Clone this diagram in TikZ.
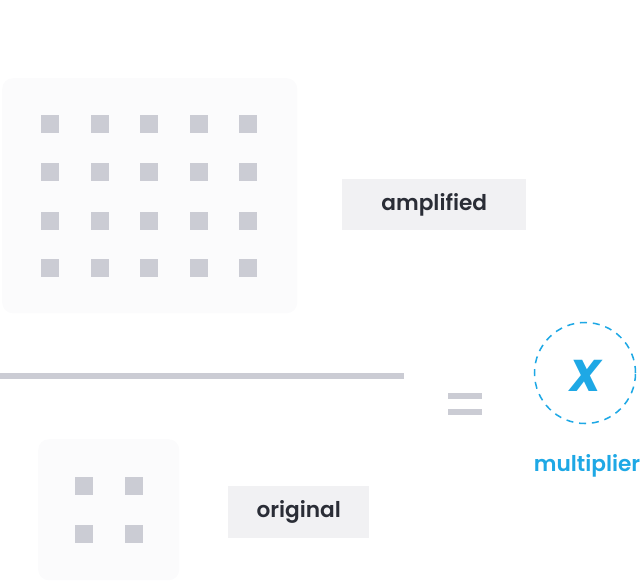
\documentclass[tikz,border=0pt]{standalone}
\usepackage{fontspec}
\setmainfont{Poppins}[BoldFont={Poppins SemiBold}, BoldItalicFont={Poppins Bold Italic}]
\usepackage{tikz}
\usetikzlibrary{positioning, calc}

\definecolor{panelbg}{HTML}{FBFBFC}
\definecolor{dotgray}{HTML}{CBCCD4}
\definecolor{tagbg}{HTML}{F1F1F3}
\definecolor{inkdark}{HTML}{2A2D36}
\definecolor{skyblue}{HTML}{1EA8E5}

\begin{document}
\begin{tikzpicture}[
    x=0.03cm, y=-0.03cm,
    % Styles
    panel/.style={
        fill=panelbg, draw=none, rounded corners=9pt, inner sep=0pt
    },
    dot/.style={
        fill=dotgray, draw=none, minimum size=0.54cm, inner sep=0pt
    },
    tag/.style={
        fill=tagbg, draw=none, inner sep=0pt, text=inkdark,
        font=\fontsize{18.5}{20}\selectfont\bfseries
    },
    bar/.style={line width=4.5pt, color=dotgray},
    ring/.style={
        draw=skyblue, dashed, line width=1.3pt, circle,
        dash pattern=on 6pt off 5pt, minimum size=3.03cm, inner sep=0pt
    }
]
    \useasboundingbox (0,0) rectangle (640,582);

    % --- Amplified panel ---
    \node[panel, minimum width=8.85cm, minimum height=7.05cm, anchor=north west] (bigpanel) at (2,78) {};
    \foreach \r/\yy in {1/124, 2/172, 3/221, 4/268} {
        \foreach \c/\xx in {1/50, 2/100, 3/149, 4/199, 5/248} {
            \node[dot] (big-\r-\c) at (\xx,\yy) {};
        }
    }
    \node[tag, minimum width=5.52cm, minimum height=1.53cm, anchor=north west] (amplified) at (342,179) {amplified};

    % --- Fraction line ---
    \coordinate (lineL) at (0,376);
    \coordinate (lineR) at (404,376);
    \draw[line width=4.3pt, color=dotgray] (lineL) -- (lineR);

    % --- Original panel ---
    \node[panel, minimum width=4.23cm, minimum height=4.23cm, anchor=north west] (smallpanel) at (38,439) {};
    \foreach \r/\yy in {1/486, 2/534} {
        \foreach \c/\xx in {1/84, 2/134} {
            \node[dot] (small-\r-\c) at (\xx,\yy) {};
        }
    }
    \node[tag, minimum width=4.23cm, minimum height=1.56cm, anchor=north west] (original) at (228,486) {original};

    % --- Equals sign ---
    \coordinate (eqA) at (448,396);
    \coordinate (eqB) at (482,396);
    \coordinate (eqC) at (448,412);
    \coordinate (eqD) at (482,412);
    \draw[bar] (eqA) -- (eqB);
    \draw[bar] (eqC) -- (eqD);

    % --- Multiplier ---
    \node[ring] (ring) at (585,373) {};
    \node[text=skyblue, font=\fontsize{38}{40}\selectfont\bfseries\itshape] (xmark) at (585,376) {X};
    \node[text=skyblue, font=\fontsize{18.5}{20}\selectfont\bfseries] (multiplier) at (587,466) {multiplier};

\end{tikzpicture}
\end{document}
